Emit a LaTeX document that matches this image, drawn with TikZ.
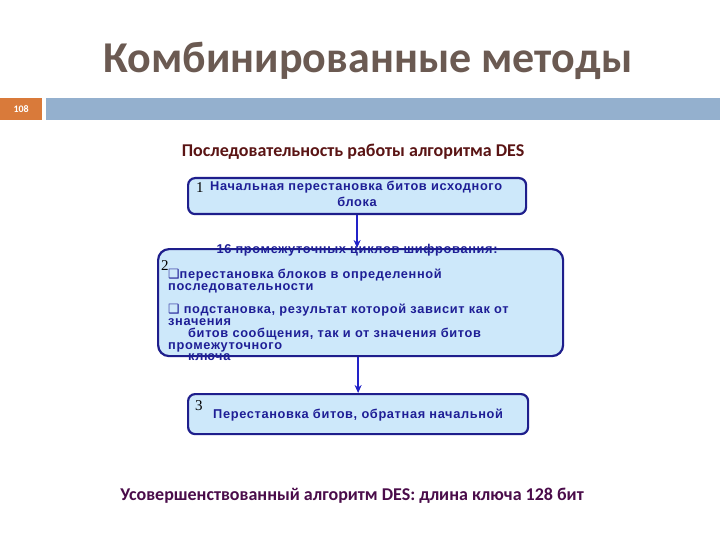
\documentclass[tikz,border=0pt]{standalone}
\usepackage{fontspec}
\setmainfont{Carlito}
\newfontfamily\boxfont{Liberation Sans}[LetterSpace=5]
\newfontfamily\numfont{Liberation Serif}
\newfontfamily\symfont{DejaVu Sans}
\usetikzlibrary{arrows.meta}
\definecolor{titlegray}{HTML}{6B5A52}
\definecolor{pagenum}{HTML}{D97A3A}
\definecolor{barblue}{HTML}{94B0CE}
\definecolor{subred}{HTML}{5A1414}
\definecolor{notepurple}{HTML}{4A0C4A}
\definecolor{boxfill}{HTML}{CDE8FA}
\definecolor{boxline}{HTML}{1E1E8C}
\definecolor{boxtext}{HTML}{1E1E96}
\definecolor{arrowblue}{HTML}{2222C8}
\tikzset{
  step box/.style={
    draw=boxline, line width=2.2pt, fill=boxfill, rounded corners=7pt, inner sep=0pt
  },
  step text/.style={
    font=\boxfont\bfseries\fontsize{12.8}{12}\selectfont, text=boxtext, inner sep=0pt, anchor=base west
  },
  step num/.style={
    font=\numfont\fontsize{15}{15}\selectfont, text=black, inner sep=0pt, anchor=base west
  },
  flow arrow/.style={
    draw=arrowblue, line width=1.6pt, -{Stealth[length=8pt,width=7pt]}
  }
}

\begin{document}
\begin{tikzpicture}[x=1pt,y=-1pt]
\useasboundingbox (0,0) rectangle (720,540);
\fill[white] (0,0) rectangle (720,540);

% шапка слайда
\node[font=\bfseries\fontsize{44}{44}\selectfont, text=titlegray, anchor=base] (title) at (368,73) {Комбинированные методы};
\node[fill=pagenum, minimum width=42, minimum height=22, inner sep=0pt, anchor=north west,
  text=white, font=\bfseries\fontsize{10}{10}\selectfont] (page) at (0,98) {108};
\node[fill=barblue, minimum width=674, minimum height=22, inner sep=0pt, anchor=north west] (bar) at (46,98) {};
\node[font=\bfseries\fontsize{18}{18}\selectfont, text=subred, anchor=base] (subtitle) at (353,157) {Последовательность работы алгоритма DES};

% шаг 1
\node[step box, minimum width=338, minimum height=36, anchor=north west] (box1) at (187,177) {};
\node[step num] (n1) at (196,193) {1};
\node[step text] (t1a) at (210,191) {Начальная перестановка битов исходного};
\node[step text, anchor=base] (t1b) at (357,207) {блока};

% шаг 2
\node[step box, rounded corners=11pt, minimum width=405, minimum height=107, anchor=north west] (box2) at (157,248) {};
\node[step text, anchor=base] (t2) at (357,253) {16 промежуточных циклов шифрования:};
\node[step num] (n2) at (161,270) {2};
\node[step text] (t2a) at (168,278) {{\symfont ❑}перестановка блоков в определенной};
\node[step text] (t2b) at (168,290) {последовательности};
\node[step text] (t2c) at (168,313) {{\symfont ❑} подстановка, результат которой зависит как от};
\node[step text] (t2d) at (168,325) {значения};
\node[step text] (t2e) at (188,337) {битов сообщения, так и от значения битов};
\node[step text] (t2f) at (168,349) {промежуточного};
\node[step text] (t2g) at (188,360) {ключа};

% шаг 3
\node[step box, minimum width=340, minimum height=40, anchor=north west] (box3) at (187,393) {};
\node[step num] (n3) at (195,410) {3};
\node[step text] (t3) at (213,418) {Перестановка битов, обратная начальной};

\draw[flow arrow] (box1.south) -- (box1.south |- box2.north);
\draw[flow arrow] (box2.south -| box3.north) -- (box3.north);

\node[font=\bfseries\fontsize{18}{18}\selectfont, text=notepurple, anchor=base] (note) at (352,500) {Усовершенствованный алгоритм DES: длина ключа 128 бит};
\end{tikzpicture}
\end{document}
